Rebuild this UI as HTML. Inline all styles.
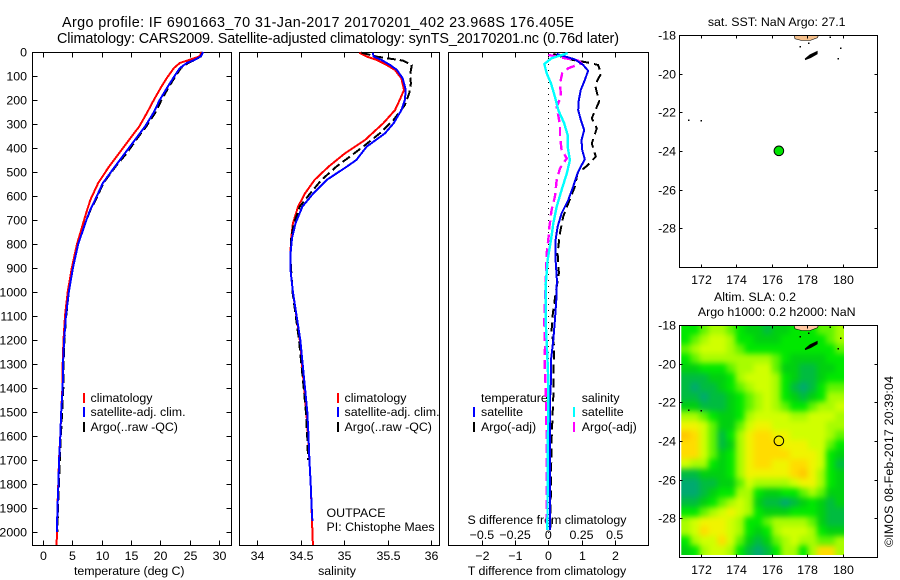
<!DOCTYPE html>
<html>
<head>
<meta charset="utf-8">
<title>Argo profile</title>
<style>
html,body{margin:0;padding:0;background:#fff;}
svg{display:block;}
text{font-family:"Liberation Sans",sans-serif;font-size:12.4px;fill:#000;}
.t{font-size:14.4px;}
</style>
</head>
<body>
<svg id="c" xmlns="http://www.w3.org/2000/svg" width="900" height="580" viewBox="0 0 900 580">
<defs>
<filter id="sm" x="-5%" y="-5%" width="110%" height="110%" color-interpolation-filters="sRGB"><feGaussianBlur stdDeviation="3"/></filter>
<clipPath id="hc"><rect x="681.3" y="325" width="162.7" height="230"/></clipPath>
</defs>
<text class="t" x="62" y="27" textLength="512">Argo profile: IF 6901663_70 31-Jan-2017 20170201_402 23.968S 176.405E</text>
<text class="t" x="57" y="43" textLength="562">Climatology: CARS2009. Satellite-adjusted climatology: synTS_20170201.nc (0.76d later)</text>

<text x="90.5" y="402">climatology</text>
<text x="90.5" y="416">satellite-adj. clim.</text>
<text x="90.5" y="431">Argo(..raw -QC)</text>
<text x="344.5" y="402">climatology</text>
<text x="344.5" y="416">satellite-adj. clim.</text>
<text x="344.5" y="431">Argo(..raw -QC)</text>
<text x="326.5" y="517">OUTPACE</text>
<text x="326.5" y="531">PI: Chistophe Maes</text>
<text x="481" y="402">temperature</text>
<text x="481" y="416">satellite</text>
<text x="481" y="431">Argo(-adj)</text>
<text x="581.7" y="402">salinity</text>
<text x="581.7" y="416">satellite</text>
<text x="581.7" y="431">Argo(-adj)</text>
<text x="467.5" y="524" textLength="159">S difference from climatology</text>
<text x="74" y="575" textLength="110.5">temperature (deg C)</text>
<text x="337" y="575" text-anchor="middle">salinity</text>
<text x="467.7" y="575" textLength="158.5">T difference from climatology</text>
<text x="776.7" y="26" text-anchor="middle">sat. SST: NaN Argo: 27.1</text>
<text x="755" y="301" text-anchor="middle">Altim. SLA: 0.2</text>
<text x="776.7" y="316" text-anchor="middle">Argo h1000: 0.2 h2000: NaN</text>
<text transform="translate(893,547) rotate(-90)" textLength="171">©IMOS 08-Feb-2017 20:39:04</text>
<g id="g"></g>
</svg>
<script>
// ---- depth-profile data ----
const tDepth = [0,18,32,46,67,108,143,199,254,310,365,421,476,546,615,660,700,750,800,900,1000,1100,1200,1300,1400,1500,1600,1700,1800,1900,2000,2054];
const tClim  = [27.0,26.7,25.0,23.3,22.3,21.1,20.2,18.9,17.7,16.4,14.7,13.0,11.3,9.4,8.1,7.5,7.0,6.4,5.8,4.9,4.2,3.75,3.5,3.35,3.3,3.1,2.95,2.73,2.6,2.45,2.4,2.3];
const tSat   = [27.3,26.9,25.9,24.5,23.3,22.2,21.3,19.9,18.8,17.4,15.7,14.0,12.3,10.2,8.9,8.0,7.4,6.7,6.0,5.1,4.4,3.9,3.6,3.4,3.35,3.1,2.95,2.75,2.62,2.47,2.35];
const tArgo  = [27.2,26.9,26.0,24.7,23.5,22.4,21.5,20.2,19.1,17.6,15.9,14.3,12.4,10.3,9.0,8.05,7.4,6.7,6.0,5.1,4.4,3.95,3.65,3.5,3.45,3.25,3.05,2.87,2.72,2.55,2.45];

const sClimDepth = [3,19,33,54,75,110,158,200,242,297,367,422,478,533,589,644,714,776,850,900,1000,1200,1400,1500,1600,1700,1800,1900,2000,2054];
const sClim = [35.175,35.26,35.375,35.49,35.586,35.66,35.69,35.64,35.586,35.45,35.24,35.01,34.82,34.66,34.55,34.47,34.41,34.39,34.38,34.38,34.41,34.49,34.54,34.565,34.585,34.6,34.615,34.625,34.635,34.64];
const sSatDepth = [3,19,33,54,75,110,158,200,242,297,339,394,450,478,533,589,644,714,776,850,900,1000,1200,1400,1500,1600,1700,1800,1900,1955];
const sSat = [35.33,35.34,35.43,35.53,35.61,35.675,35.71,35.70,35.66,35.57,35.47,35.26,35.14,35.03,34.80,34.645,34.52,34.44,34.40,34.38,34.38,34.41,34.495,34.55,34.576,34.59,34.60,34.615,34.627,34.635];
const sArgoDepth = [3,19,26,36,54,96,131,172,221,283,339,394,478,533,589,644,714,776,850,1000,1200,1400,1500,1600,1700];
const sArgo = [35.2,35.375,35.49,35.68,35.78,35.76,35.77,35.75,35.70,35.57,35.41,35.22,34.91,34.74,34.61,34.49,34.42,34.39,34.38,34.405,34.48,34.535,34.56,34.575,34.585];

const dtSatDepth = [8,31,54,78,117,158,200,242,283,325,367,408,447,478,506,561,617,672,728,783,867,950,1033,1117,1200,1283,1367,1450,1700,1992];
const dtSat = [0.25,0.80,1.05,1.2,1.1,0.98,0.92,0.9,0.98,1.08,1.0,1.02,1.1,0.98,0.88,0.75,0.6,0.4,0.28,0.22,0.22,0.26,0.24,0.2,0.15,0.08,0.08,0.05,0.05,0.05];
const dtArgoDepth = [8,31,44,54,89,138,207,276,318,381,436,475,506,561,624,686,755,839,922,1006,1117,1172,1228,1297,1380,1436,1617,1783,1992];
const dtArgo = [0.15,0.65,1.2,1.5,1.59,1.41,1.53,1.31,1.46,1.31,1.43,1.16,0.88,0.8,0.62,0.45,0.35,0.28,0.32,0.22,0.11,0.1,0.18,0.16,0.16,0.15,0.1,0.08,0.06];
const dsSatDepth = [5,26,50,89,131,186,242,297,347,395,450,506,575,644,714,783,867,978,1117,1256,1367,1450,1645,1992];
const dsSat = [0.146,0.025,-0.03,-0.012,0.02,0.05,0.075,0.12,0.146,0.146,0.163,0.139,0.1,0.063,0.038,0.02,-0.005,-0.02,-0.02,-0.008,0,0,-0.004,-0.007];
const dsArgoDepth = [12,22,36,47,68,89,131,186,228,304,353,408,443,485,533,603,658,728,783,825,950,1117,1228,1297,1367,1450,1617,1853,1992];
const dsArgo = [0,0.088,0.226,0.25,0.15,0.105,0.088,0.096,0.063,0.088,0.088,0.1,0.139,0.088,0.063,0.05,0.025,0.008,0,-0.01,-0.02,-0.03,-0.025,-0.027,-0.022,-0.018,-0.012,-0.012,-0.01];

// ---- tick labels ----
const depthTicks = [0,100,200,300,400,500,600,700,800,900,1000,1100,1200,1300,1400,1500,1600,1700,1800,1900,2000];
const tempTicks = [0,5,10,15,20,25,30];
const salTicks = [34,34.5,35,35.5,36];
const dTTicks = [-2,-1,0,1,2];
const dSTicks = [-0.5,-0.25,0,0.25,0.5];
const lonTicks = [172,174,176,178,180];
const latTicks = [18,20,22,24,26,28];

// ---- map data ----
const floatLon = 176.405;
const floatLat = 23.968;
const landLon = [177.27,178.63,178.57,178.16,177.69,177.31];
const landLat = [18,18,18.12,18.26,18.26,18.17];
const isleLon = [177.88,178.15,178.57,178.57,178.2,177.9];
const isleLat = [19.2,19.0,18.81,18.95,19.15,19.25];
const isletLon = [177.6,178.06,179.29,179.87,179.74,171.3,172.03];
const isletLat = [18.57,18.4,18.09,18.64,19.19,22.36,22.4];
const slaRows = [
"334554322122333445",
"345665332223333345",
"456665433333333334",
"345555555543222233",
"223334556642211223",
"111223566653211233",
"101123456653101344",
"110112345653212355",
"221112345654334556",
"554322356666556665",
"776422467766666655",
"986413578877666654",
"886412578887776643",
"886423578888777632",
"655323578877887631",
"112223577777897532",
"001122465555677532",
"001233553223345422",
"112345652110123212",
"334567653222333211",
"567776533455554211",
"568776532356665322",
"356686421245655445",
"235665310135535885"
];
const slaColors = ["#00aa70","#00bc40","#00d010","#00e800","#60f400","#a8fc00","#d0ff00","#f0f400","#ffdc00","#ffc800"];

// ---- axis functions ----
const yD = d => 52 + 0.24 * d;
const xT = v => 43 + 5.87 * v;
const xS = v => 257.3 + 86.8 * (v - 34);
const xDT = v => 548.3 + 33.2 * v;
const xDS = v => 548.3 + 132.8 * v;
const xLon = v => 700.7 + 17.75 * (v - 172);
const yU = v => 35.5 + 19.33 * (v - 18);
const yL = v => 325.5 + 19.33 * (v - 18);

const NS = 'http://www.w3.org/2000/svg';
const root = document.getElementById('g');
function mk(tag, attrs, name, parent) {
  const el = document.createElementNS(NS, tag);
  for (const k in attrs) el.setAttribute(k, attrs[k]);
  
  
  (parent || root).appendChild(el);
  return el;
}
function label(x, y, s, anchor, name) {
  const el = mk('text', {x: x, y: y, 'text-anchor': anchor}, name);
  el.textContent = s;
}
function line(x1, y1, x2, y2, name, color, w) {
  return mk('line', {x1: x1, y1: y1, x2: x2, y2: y2, stroke: color || '#000', 'stroke-width': w || 1, 'shape-rendering': 'crispEdges'}, name);
}
function box(x0, y0, x1, y1, name) {
  mk('rect', {x: x0, y: y0, width: x1 - x0, height: y1 - y0, fill: 'none', stroke: '#000', 'stroke-width': 1, 'shape-rendering': 'crispEdges'}, name);
}
function profile(xf, vals, depths, color, w, dash, name) {
  const pts = vals.map((v, i) => xf(v).toFixed(1) + ',' + yD(depths[i]).toFixed(1)).join(' ');
  const a = {points: pts, fill: 'none', stroke: color, 'stroke-width': w, 'shape-rendering': 'crispEdges', 'stroke-linejoin': 'round'};
  if (dash) a['stroke-dasharray'] = dash;
  mk('polyline', a, name);
}
function legendBar(x, y, color, name) {
  mk('rect', {x: x, y: y, width: 2, height: 10, fill: color, 'shape-rendering': 'crispEdges'}, name);
}

// ---- panel 1 : temperature ----
box(32.5, 52.5, 231.5, 545.5, 'temperature-panel-frame');
depthTicks.forEach(d => {
  const y = Math.round(yD(d)) + 0.5;
  line(32.5, y, 37.5, y, 'depth-tick-left');
  line(226.5, y, 231.5, y, 'depth-tick-right');
  label(27, y + 4, String(d), 'end', 'depth-tick-label');
});
tempTicks.forEach(v => {
  const x = Math.round(xT(v)) + 0.5;
  line(x, 52.5, x, 57.5, 'temp-tick-top');
  line(x, 540.5, x, 545.5, 'temp-tick-bottom');
  label(x, 560, String(v), 'middle', 'temp-tick-label');
});
profile(xT, tClim, tDepth, '#ff0000', 2, null, 'temperature-climatology-line');
profile(xT, tArgo, tDepth.slice(0, tArgo.length), '#000000', 2, '9 4', 'temperature-argo-line');
profile(xT, tSat, tDepth.slice(0, tSat.length), '#0000ff', 2, null, 'temperature-satellite-line');
legendBar(83, 393, '#ff0000', 'legend-swatch-climatology');
legendBar(83, 407, '#0000ff', 'legend-swatch-satellite');
legendBar(83, 422, '#000000', 'legend-swatch-argo');

// ---- panel 2 : salinity ----
box(239.5, 52.5, 439.5, 545.5, 'salinity-panel-frame');
salTicks.forEach(v => {
  const x = Math.round(xS(v)) + 0.5;
  line(x, 52.5, x, 57.5, 'sal-tick-top');
  line(x, 540.5, x, 545.5, 'sal-tick-bottom');
  label(x, 560, String(v), 'middle', 'sal-tick-label');
});
profile(xS, sClim, sClimDepth, '#ff0000', 2, null, 'salinity-climatology-line');
profile(xS, sArgo, sArgoDepth, '#000000', 2, '9 4', 'salinity-argo-line');
profile(xS, sSat, sSatDepth, '#0000ff', 2, null, 'salinity-satellite-line');
legendBar(337, 393, '#ff0000', 'legend-swatch-climatology-s');
legendBar(337, 407, '#0000ff', 'legend-swatch-satellite-s');
legendBar(337, 422, '#000000', 'legend-swatch-argo-s');

// ---- panel 3 : differences ----
box(448.5, 52.5, 648.5, 545.5, 'difference-panel-frame');
dTTicks.forEach(v => {
  const x = Math.round(xDT(v)) + 0.5;
  line(x, 52.5, x, 57.5, 'dt-tick-top');
  line(x, 540.5, x, 545.5, 'dt-tick-bottom');
  label(x, 560, String(v).replace('-', '\u2212'), 'middle', 'dt-tick-label');
});
dSTicks.forEach(v => {
  label(xDS(v), 539, String(v).replace('-', '\u2212'), 'middle', 'ds-tick-label');
});
mk('line', {x1: xDT(0), y1: 52, x2: xDT(0), y2: 545, stroke: '#000', 'stroke-width': 1, 'stroke-dasharray': '1 5', 'shape-rendering': 'crispEdges'}, 'zero-reference-line');
profile(xDT, dtArgo, dtArgoDepth, '#000000', 2, '9 5', 'dt-argo-line');
profile(xDS, dsArgo, dsArgoDepth, '#ff00ff', 2.4, '9 5', 'ds-argo-line');
profile(xDT, dtSat, dtSatDepth, '#0000ee', 2, null, 'dt-satellite-line');
profile(xDS, dsSat, dsSatDepth, '#00ffff', 2.4, null, 'ds-satellite-line');
legendBar(473, 407, '#0000ff', 'legend-swatch-t-satellite');
legendBar(473, 422, '#000000', 'legend-swatch-t-argo');
legendBar(573, 407, '#00ffff', 'legend-swatch-s-satellite');
legendBar(573, 422, '#ff00ff', 'legend-swatch-s-argo');

// ---- maps ----
function land(yf, color, tag) {
  mk('polygon', {points: landLon.map((v, i) => xLon(v).toFixed(1) + ',' + yf(landLat[i]).toFixed(1)).join(' '), fill: color, stroke: '#000', 'stroke-width': 0.6}, tag + '-land');
  mk('polygon', {points: isleLon.map((v, i) => xLon(v).toFixed(1) + ',' + yf(isleLat[i]).toFixed(1)).join(' '), fill: '#000', stroke: '#000', 'stroke-width': 0.6}, tag + '-island');
  isletLon.forEach((v, i) => {
    mk('rect', {x: xLon(v) - 0.5, y: yf(isletLat[i]) - 0.5, width: 1.5, height: 1.5, fill: '#000', 'shape-rendering': 'crispEdges'}, tag + '-islet');
  });
}
function mapAxes(yTop, yBot, yf, tag) {
  box(679.5, yTop + 0.5, 877.5, yBot + 0.5, tag + '-frame');
  lonTicks.forEach(v => {
    const x = Math.round(xLon(v)) + 0.5;
    line(x, yTop + 0.5, x, yTop + 3.5, tag + '-lon-tick-top');
    line(x, yBot - 2.5, x, yBot + 0.5, tag + '-lon-tick-bottom');
    label(x, yBot + 17, String(v), 'middle', tag + '-lon-label');
  });
  latTicks.forEach(v => {
    const y = Math.round(yf(v) - 0.5) + 0.5;
    line(679.5, y, 682.5, y, tag + '-lat-tick-left');
    line(874.5, y, 877.5, y, tag + '-lat-tick-right');
    label(676, y + 4, '-' + v, 'end', tag + '-lat-label');
  });
}
// heatmap (SLA, lower map)
const heat = mk('g', {filter: 'url(#sm)'}, 'sla-heatmap-cells', mk('g', {'clip-path': 'url(#hc)'}, 'sla-heatmap'));
const nRows = slaRows.length;
slaRows.forEach((row, r) => {
  row.split('').forEach((ch, c) => {
    const x0 = xLon(170.9 + c * 0.5097), x1 = xLon(170.9 + (c + 1) * 0.5097);
    const y0 = yL(18 + r * 0.496) - 0.5, y1 = yL(18 + (r + 1) * 0.496) - 0.5;
    const X = c === 0 ? x0 - 12 : x0, W = (x1 - X) + (c === row.length - 1 ? 12 : 0.4);
    const Y = r === 0 ? y0 - 12 : y0, H = (y1 - Y) + (r === nRows - 1 ? 12 : 0.4);
    mk('rect', {x: X, y: Y, width: W, height: H, fill: slaColors[+ch]}, 'sla-cell', heat);
  });
});
land(yU, '#f5c08c', 'sst-map');
land(yL, '#ffc8a0', 'altim-map');
mapAxes(35, 267, yU, 'sst-map');
mapAxes(325, 557, yL, 'altim-map');
mk('circle', {cx: xLon(floatLon), cy: yU(floatLat), r: 4.8, fill: '#00e400', stroke: '#000', 'stroke-width': 1}, 'float-position-sst');
mk('circle', {cx: xLon(floatLon), cy: yL(floatLat), r: 4.8, fill: 'none', stroke: '#000', 'stroke-width': 1}, 'float-position-altim');
</script>
</body>
</html>
